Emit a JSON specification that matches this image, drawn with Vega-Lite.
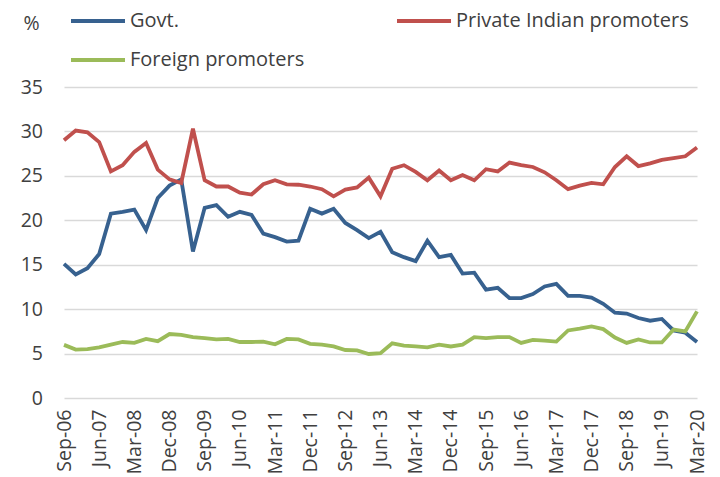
{
  "$schema": "https://vega.github.io/schema/vega-lite/v6.json",
  "width": 633,
  "height": 311,
  "autosize": {"type": "none"},
  "padding": {"left": 64, "top": 87, "right": 23, "bottom": 79},
  "background": "white",
  "config": {
    "view": {"stroke": null},
    "font": "Open Sans",
    "axis": {"labelFont": "Open Sans", "labelColor": "#404040", "labelFontSize": 19.5, "titleFont": "Open Sans"},
    "legend": {"labelFont": "Open Sans"}
  },
  "data": {
    "values": [
      {"q":"Sep-06","s":"Govt.","v":15.1},{"q":"Dec-06","s":"Govt.","v":13.9},{"q":"Mar-07","s":"Govt.","v":14.6},{"q":"Jun-07","s":"Govt.","v":16.2},
      {"q":"Sep-07","s":"Govt.","v":20.75},{"q":"Dec-07","s":"Govt.","v":20.95},{"q":"Mar-08","s":"Govt.","v":21.2},{"q":"Jun-08","s":"Govt.","v":18.9},
      {"q":"Sep-08","s":"Govt.","v":22.5},{"q":"Dec-08","s":"Govt.","v":23.9},{"q":"Mar-09","s":"Govt.","v":24.6},{"q":"Jun-09","s":"Govt.","v":16.5},
      {"q":"Sep-09","s":"Govt.","v":21.4},{"q":"Dec-09","s":"Govt.","v":21.7},{"q":"Mar-10","s":"Govt.","v":20.4},{"q":"Jun-10","s":"Govt.","v":20.95},
      {"q":"Sep-10","s":"Govt.","v":20.6},{"q":"Dec-10","s":"Govt.","v":18.5},{"q":"Mar-11","s":"Govt.","v":18.1},{"q":"Jun-11","s":"Govt.","v":17.6},
      {"q":"Sep-11","s":"Govt.","v":17.7},{"q":"Dec-11","s":"Govt.","v":21.3},{"q":"Mar-12","s":"Govt.","v":20.75},{"q":"Jun-12","s":"Govt.","v":21.3},
      {"q":"Sep-12","s":"Govt.","v":19.7},{"q":"Dec-12","s":"Govt.","v":18.9},{"q":"Mar-13","s":"Govt.","v":18.0},{"q":"Jun-13","s":"Govt.","v":18.7},
      {"q":"Sep-13","s":"Govt.","v":16.4},{"q":"Dec-13","s":"Govt.","v":15.85},{"q":"Mar-14","s":"Govt.","v":15.4},{"q":"Jun-14","s":"Govt.","v":17.7},
      {"q":"Sep-14","s":"Govt.","v":15.85},{"q":"Dec-14","s":"Govt.","v":16.1},{"q":"Mar-15","s":"Govt.","v":14.0},{"q":"Jun-15","s":"Govt.","v":14.1},
      {"q":"Sep-15","s":"Govt.","v":12.2},{"q":"Dec-15","s":"Govt.","v":12.4},{"q":"Mar-16","s":"Govt.","v":11.25},{"q":"Jun-16","s":"Govt.","v":11.25},
      {"q":"Sep-16","s":"Govt.","v":11.7},{"q":"Dec-16","s":"Govt.","v":12.55},{"q":"Mar-17","s":"Govt.","v":12.85},{"q":"Jun-17","s":"Govt.","v":11.5},
      {"q":"Sep-17","s":"Govt.","v":11.5},{"q":"Dec-17","s":"Govt.","v":11.3},{"q":"Mar-18","s":"Govt.","v":10.6},{"q":"Jun-18","s":"Govt.","v":9.6},
      {"q":"Sep-18","s":"Govt.","v":9.5},{"q":"Dec-18","s":"Govt.","v":9.0},{"q":"Mar-19","s":"Govt.","v":8.7},{"q":"Jun-19","s":"Govt.","v":8.9},
      {"q":"Sep-19","s":"Govt.","v":7.6},{"q":"Dec-19","s":"Govt.","v":7.35},{"q":"Mar-20","s":"Govt.","v":6.3},

      {"q":"Sep-06","s":"Private Indian promoters","v":29.0},{"q":"Dec-06","s":"Private Indian promoters","v":30.1},{"q":"Mar-07","s":"Private Indian promoters","v":29.9},{"q":"Jun-07","s":"Private Indian promoters","v":28.8},
      {"q":"Sep-07","s":"Private Indian promoters","v":25.5},{"q":"Dec-07","s":"Private Indian promoters","v":26.2},{"q":"Mar-08","s":"Private Indian promoters","v":27.7},{"q":"Jun-08","s":"Private Indian promoters","v":28.7},
      {"q":"Sep-08","s":"Private Indian promoters","v":25.7},{"q":"Dec-08","s":"Private Indian promoters","v":24.6},{"q":"Mar-09","s":"Private Indian promoters","v":24.2},{"q":"Jun-09","s":"Private Indian promoters","v":30.3},
      {"q":"Sep-09","s":"Private Indian promoters","v":24.5},{"q":"Dec-09","s":"Private Indian promoters","v":23.8},{"q":"Mar-10","s":"Private Indian promoters","v":23.8},{"q":"Jun-10","s":"Private Indian promoters","v":23.1},
      {"q":"Sep-10","s":"Private Indian promoters","v":22.9},{"q":"Dec-10","s":"Private Indian promoters","v":24.05},{"q":"Mar-11","s":"Private Indian promoters","v":24.5},{"q":"Jun-11","s":"Private Indian promoters","v":24.05},
      {"q":"Sep-11","s":"Private Indian promoters","v":24.0},{"q":"Dec-11","s":"Private Indian promoters","v":23.8},{"q":"Mar-12","s":"Private Indian promoters","v":23.5},{"q":"Jun-12","s":"Private Indian promoters","v":22.7},
      {"q":"Sep-12","s":"Private Indian promoters","v":23.45},{"q":"Dec-12","s":"Private Indian promoters","v":23.7},{"q":"Mar-13","s":"Private Indian promoters","v":24.8},{"q":"Jun-13","s":"Private Indian promoters","v":22.7},
      {"q":"Sep-13","s":"Private Indian promoters","v":25.8},{"q":"Dec-13","s":"Private Indian promoters","v":26.2},{"q":"Mar-14","s":"Private Indian promoters","v":25.45},{"q":"Jun-14","s":"Private Indian promoters","v":24.5},
      {"q":"Sep-14","s":"Private Indian promoters","v":25.6},{"q":"Dec-14","s":"Private Indian promoters","v":24.5},{"q":"Mar-15","s":"Private Indian promoters","v":25.1},{"q":"Jun-15","s":"Private Indian promoters","v":24.5},
      {"q":"Sep-15","s":"Private Indian promoters","v":25.75},{"q":"Dec-15","s":"Private Indian promoters","v":25.5},{"q":"Mar-16","s":"Private Indian promoters","v":26.5},{"q":"Jun-16","s":"Private Indian promoters","v":26.2},
      {"q":"Sep-16","s":"Private Indian promoters","v":26.0},{"q":"Dec-16","s":"Private Indian promoters","v":25.4},{"q":"Mar-17","s":"Private Indian promoters","v":24.5},{"q":"Jun-17","s":"Private Indian promoters","v":23.5},
      {"q":"Sep-17","s":"Private Indian promoters","v":23.9},{"q":"Dec-17","s":"Private Indian promoters","v":24.2},{"q":"Mar-18","s":"Private Indian promoters","v":24.05},{"q":"Jun-18","s":"Private Indian promoters","v":26.0},
      {"q":"Sep-18","s":"Private Indian promoters","v":27.2},{"q":"Dec-18","s":"Private Indian promoters","v":26.1},{"q":"Mar-19","s":"Private Indian promoters","v":26.4},{"q":"Jun-19","s":"Private Indian promoters","v":26.8},
      {"q":"Sep-19","s":"Private Indian promoters","v":27.0},{"q":"Dec-19","s":"Private Indian promoters","v":27.2},{"q":"Mar-20","s":"Private Indian promoters","v":28.2},

      {"q":"Sep-06","s":"Foreign promoters","v":5.98},{"q":"Dec-06","s":"Foreign promoters","v":5.45},{"q":"Mar-07","s":"Foreign promoters","v":5.5},{"q":"Jun-07","s":"Foreign promoters","v":5.7},
      {"q":"Sep-07","s":"Foreign promoters","v":6.0},{"q":"Dec-07","s":"Foreign promoters","v":6.3},{"q":"Mar-08","s":"Foreign promoters","v":6.2},{"q":"Jun-08","s":"Foreign promoters","v":6.65},
      {"q":"Sep-08","s":"Foreign promoters","v":6.4},{"q":"Dec-08","s":"Foreign promoters","v":7.2},{"q":"Mar-09","s":"Foreign promoters","v":7.1},{"q":"Jun-09","s":"Foreign promoters","v":6.85},
      {"q":"Sep-09","s":"Foreign promoters","v":6.75},{"q":"Dec-09","s":"Foreign promoters","v":6.6},{"q":"Mar-10","s":"Foreign promoters","v":6.65},{"q":"Jun-10","s":"Foreign promoters","v":6.3},
      {"q":"Sep-10","s":"Foreign promoters","v":6.3},{"q":"Dec-10","s":"Foreign promoters","v":6.35},{"q":"Mar-11","s":"Foreign promoters","v":6.05},{"q":"Jun-11","s":"Foreign promoters","v":6.65},
      {"q":"Sep-11","s":"Foreign promoters","v":6.6},{"q":"Dec-11","s":"Foreign promoters","v":6.1},{"q":"Mar-12","s":"Foreign promoters","v":6.0},{"q":"Jun-12","s":"Foreign promoters","v":5.8},
      {"q":"Sep-12","s":"Foreign promoters","v":5.4},{"q":"Dec-12","s":"Foreign promoters","v":5.35},{"q":"Mar-13","s":"Foreign promoters","v":4.95},{"q":"Jun-13","s":"Foreign promoters","v":5.05},
      {"q":"Sep-13","s":"Foreign promoters","v":6.15},{"q":"Dec-13","s":"Foreign promoters","v":5.9},{"q":"Mar-14","s":"Foreign promoters","v":5.8},{"q":"Jun-14","s":"Foreign promoters","v":5.7},
      {"q":"Sep-14","s":"Foreign promoters","v":6.0},{"q":"Dec-14","s":"Foreign promoters","v":5.8},{"q":"Mar-15","s":"Foreign promoters","v":6.0},{"q":"Jun-15","s":"Foreign promoters","v":6.85},
      {"q":"Sep-15","s":"Foreign promoters","v":6.75},{"q":"Dec-15","s":"Foreign promoters","v":6.85},{"q":"Mar-16","s":"Foreign promoters","v":6.85},{"q":"Jun-16","s":"Foreign promoters","v":6.2},
      {"q":"Sep-16","s":"Foreign promoters","v":6.55},{"q":"Dec-16","s":"Foreign promoters","v":6.45},{"q":"Mar-17","s":"Foreign promoters","v":6.35},{"q":"Jun-17","s":"Foreign promoters","v":7.6},
      {"q":"Sep-17","s":"Foreign promoters","v":7.8},{"q":"Dec-17","s":"Foreign promoters","v":8.05},{"q":"Mar-18","s":"Foreign promoters","v":7.75},{"q":"Jun-18","s":"Foreign promoters","v":6.8},
      {"q":"Sep-18","s":"Foreign promoters","v":6.2},{"q":"Dec-18","s":"Foreign promoters","v":6.6},{"q":"Mar-19","s":"Foreign promoters","v":6.25},{"q":"Jun-19","s":"Foreign promoters","v":6.25},
      {"q":"Sep-19","s":"Foreign promoters","v":7.7},{"q":"Dec-19","s":"Foreign promoters","v":7.5},{"q":"Mar-20","s":"Foreign promoters","v":9.75}
    ]
  },
  "mark": {"type": "line", "strokeWidth": 3.8, "strokeJoin": "miter", "strokeCap": "butt"},
  "encoding": {
    "x": {
      "field": "q", "type": "ordinal", "sort": null,
      "scale": {"type": "point", "padding": 0},
      "axis": {
        "title": null,
        "values": ["Sep-06","Jun-07","Mar-08","Dec-08","Sep-09","Jun-10","Mar-11","Dec-11","Sep-12","Jun-13","Mar-14","Dec-14","Sep-15","Jun-16","Mar-17","Dec-17","Sep-18","Jun-19","Mar-20"],
        "labelAngle": -90, "labelAlign": "right", "labelBaseline": "middle",
        "labelPadding": 11, "domain": false, "ticks": false, "grid": false,
        "labelOverlap": false
      }
    },
    "y": {
      "field": "v", "type": "quantitative",
      "scale": {"domain": [0, 35], "nice": false},
      "axis": {
        "values": [0,5,10,15,20,25,30,35],
        "title": "%", "titleAngle": 0, "titleX": -33, "titleY": -64,
        "titleAlign": "center", "titleBaseline": "middle",
        "titleFontSize": 19.5, "titleFontWeight": "normal", "titleColor": "#404040",
        "domain": false, "ticks": false, "grid": true,
        "gridColor": "#d9d9d9", "gridWidth": 1.6,
        "labelPadding": 21.5
      }
    },
    "color": {
      "field": "s", "type": "nominal",
      "scale": {
        "domain": ["Govt.", "Foreign promoters", "Private Indian promoters"],
        "range": ["#37618F", "#9BBB59", "#C0504D"]
      },
      "legend": {
        "title": null, "orient": "none", "legendX": 5, "legendY": -95,
        "columns": 2, "columnPadding": 84, "rowPadding": 0,
        "symbolType": "stroke", "symbolSize": 2916, "symbolStrokeWidth": 4,
        "labelFontSize": 20, "labelColor": "#404040", "labelOffset": 3,
        "labelLimit": 400
      }
    }
  }
}
